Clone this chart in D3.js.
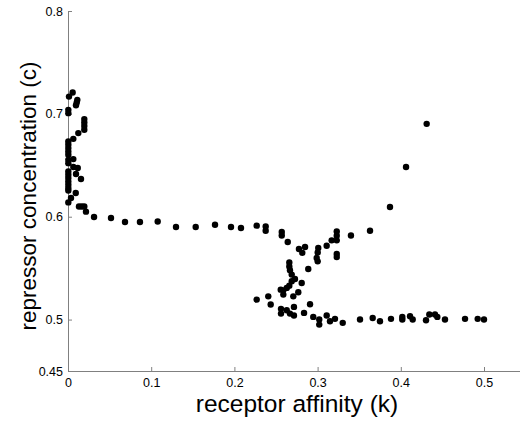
<!DOCTYPE html>
<html lang="en">
<head>
	<meta charset="utf-8">
	<title>Repressor vs receptor affinity</title>
	<script src="https://d3js.org/d3.v7.min.js"></script>
	<style>
		body { margin: 0; background: #fff; }
		text { font-family: "Liberation Sans", Arial, sans-serif; }
	</style>
</head>
<body>
	<div id="chart"></div>
	<script>
		// receptor affinity (k)
		let kValues = [
			0.0056, 0.0012, 0.0112, 0.0105, 0.0096, 0.0004, 0.0004, 0.0196, 0.0196, 0.0196,
			0.0196, 0.0124, 0.0064, 0.0004, 0.0004, 0.0004, 0.0004, 0.0004, 0.0004, 0.0004,
			0.0064, 0.0064, 0.0117, 0.0096, 0.0156, 0.0004, 0.0004, 0.0004, 0.0004, 0.0004,
			0.0004, 0.0004, 0.0093, 0.0036, 0.0004, 0.0132, 0.0165, 0.0196, 0.0216, 0.0313,
			0.0517, 0.0685, 0.0865, 0.1078, 0.1298, 0.1535, 0.1767, 0.1959, 0.2079, 0.2268,
			0.2376, 0.2376, 0.2569, 0.2569, 0.2641, 0.2776, 0.2849, 0.2816, 0.3008, 0.3001,
			0.2989, 0.3001, 0.3109, 0.3169, 0.3230, 0.3230, 0.3230, 0.3401, 0.3630, 0.3230,
			0.3230, 0.2660, 0.2660, 0.2668, 0.2689, 0.2888, 0.2728, 0.2689, 0.2660, 0.2629,
			0.2588, 0.2557, 0.2588, 0.2809, 0.2768, 0.2708, 0.2268, 0.2407, 0.2436, 0.2560,
			0.2560, 0.2629, 0.2668, 0.2716, 0.2716, 0.2837, 0.2909, 0.2948, 0.3020, 0.3020,
			0.3109, 0.3149, 0.3209, 0.3302, 0.3510, 0.3662, 0.4311, 0.4063, 0.3870, 0.3750,
			0.3882, 0.4018, 0.4018, 0.4111, 0.4143, 0.4303, 0.4343, 0.4411, 0.4439, 0.4531,
			0.4772, 0.4924, 0.5000
		];
		// repressor concentration (c)
		let cValues = [
			0.7207, 0.7168, 0.7136, 0.7110, 0.7084, 0.7039, 0.7007, 0.6949, 0.6916, 0.6883,
			0.6845, 0.6813, 0.6757, 0.6731, 0.6699, 0.6667, 0.6634, 0.6602, 0.6553, 0.6521,
			0.6560, 0.6483, 0.6473, 0.6415, 0.6366, 0.6440, 0.6408, 0.6376, 0.6343, 0.6311,
			0.6279, 0.6255, 0.6230, 0.6182, 0.6139, 0.6100, 0.6100, 0.6100, 0.6049, 0.5997,
			0.5987, 0.5949, 0.5949, 0.5954, 0.5900, 0.5900, 0.5922, 0.5900, 0.5890, 0.5913,
			0.5906, 0.5864, 0.5851, 0.5818, 0.5754, 0.5686, 0.5706, 0.5648, 0.5696, 0.5653,
			0.5599, 0.5566, 0.5718, 0.5770, 0.5770, 0.5816, 0.5857, 0.5818, 0.5864, 0.5638,
			0.5609, 0.5556, 0.5517, 0.5479, 0.5437, 0.5492, 0.5395, 0.5372, 0.5330, 0.5308,
			0.5284, 0.5291, 0.5243, 0.5356, 0.5265, 0.5226, 0.5194, 0.5226, 0.5146, 0.5104,
			0.5058, 0.5090, 0.5058, 0.5123, 0.5039, 0.5065, 0.5149, 0.5026, 0.5000, 0.4951,
			0.5039, 0.4983, 0.5007, 0.4968, 0.5000, 0.5016, 0.6903, 0.6483, 0.6094, 0.4983,
			0.5007, 0.5026, 0.5000, 0.5032, 0.5000, 0.4993, 0.5049, 0.5049, 0.5026, 0.5000,
			0.5007, 0.5007, 0.5000
		];
		let xTicks = [0, 0.1, 0.2, 0.3, 0.4, 0.5];
		let yTicks = [0.45, 0.5, 0.6, 0.7, 0.8];

		let width = 520;
		let height = 421;
		let marginLeft = 68, marginTop = 11, axisBottom = 371;

		let svg = d3.select("#chart")
			.append("svg")
			.attr("width", width)
			.attr("height", height);

		let x = d3.scaleLinear().domain([0, 0.55]).range([marginLeft, marginLeft + 0.55 * 832]);
		let y = d3.scaleLinear().domain([0.45, 0.8]).range([axisBottom, marginTop]);

		// x axis, ticks pointing inward
		let xAxis = svg.append("g")
			.attr("transform", "translate(0," + axisBottom + ")")
			.call(d3.axisTop(x).tickValues(xTicks).tickSize(4).tickSizeOuter(0).tickFormat(d3.format("")));
		xAxis.selectAll("text").attr("y", 16).attr("dy", "0");
		// y axis
		let yAxis = svg.append("g")
			.attr("transform", "translate(" + marginLeft + ",0)")
			.call(d3.axisRight(y).tickValues(yTicks).tickSize(4).tickSizeOuter(0).tickFormat(d3.format("")));
		yAxis.selectAll("text").attr("x", -5).attr("text-anchor", "end");

		svg.selectAll(".domain, .tick line").attr("stroke", "#808080");
		svg.selectAll(".tick text").attr("font-size", 12.5).attr("fill", "#000")
			.attr("font-family", "Liberation Sans, Arial, sans-serif");

		// points
		svg.append("g")
			.selectAll("circle")
			.data(kValues)
			.enter()
			.append("circle")
			.attr("cx", function(d) { return x(d); })
			.attr("cy", function(d, i) { return y(cValues[i]); })
			.attr("r", 3.2)
			.attr("fill", "#000");

		// axis titles
		svg.append("text")
			.attr("x", 297)
			.attr("y", 412)
			.attr("text-anchor", "middle")
			.attr("font-size", 24.5)
			.text("receptor affinity (k)");
		svg.append("text")
			.attr("transform", "translate(36,196) rotate(-90)")
			.attr("text-anchor", "middle")
			.attr("font-size", 22.5)
			.text("repressor concentration (c)");
	</script>
</body>
</html>
